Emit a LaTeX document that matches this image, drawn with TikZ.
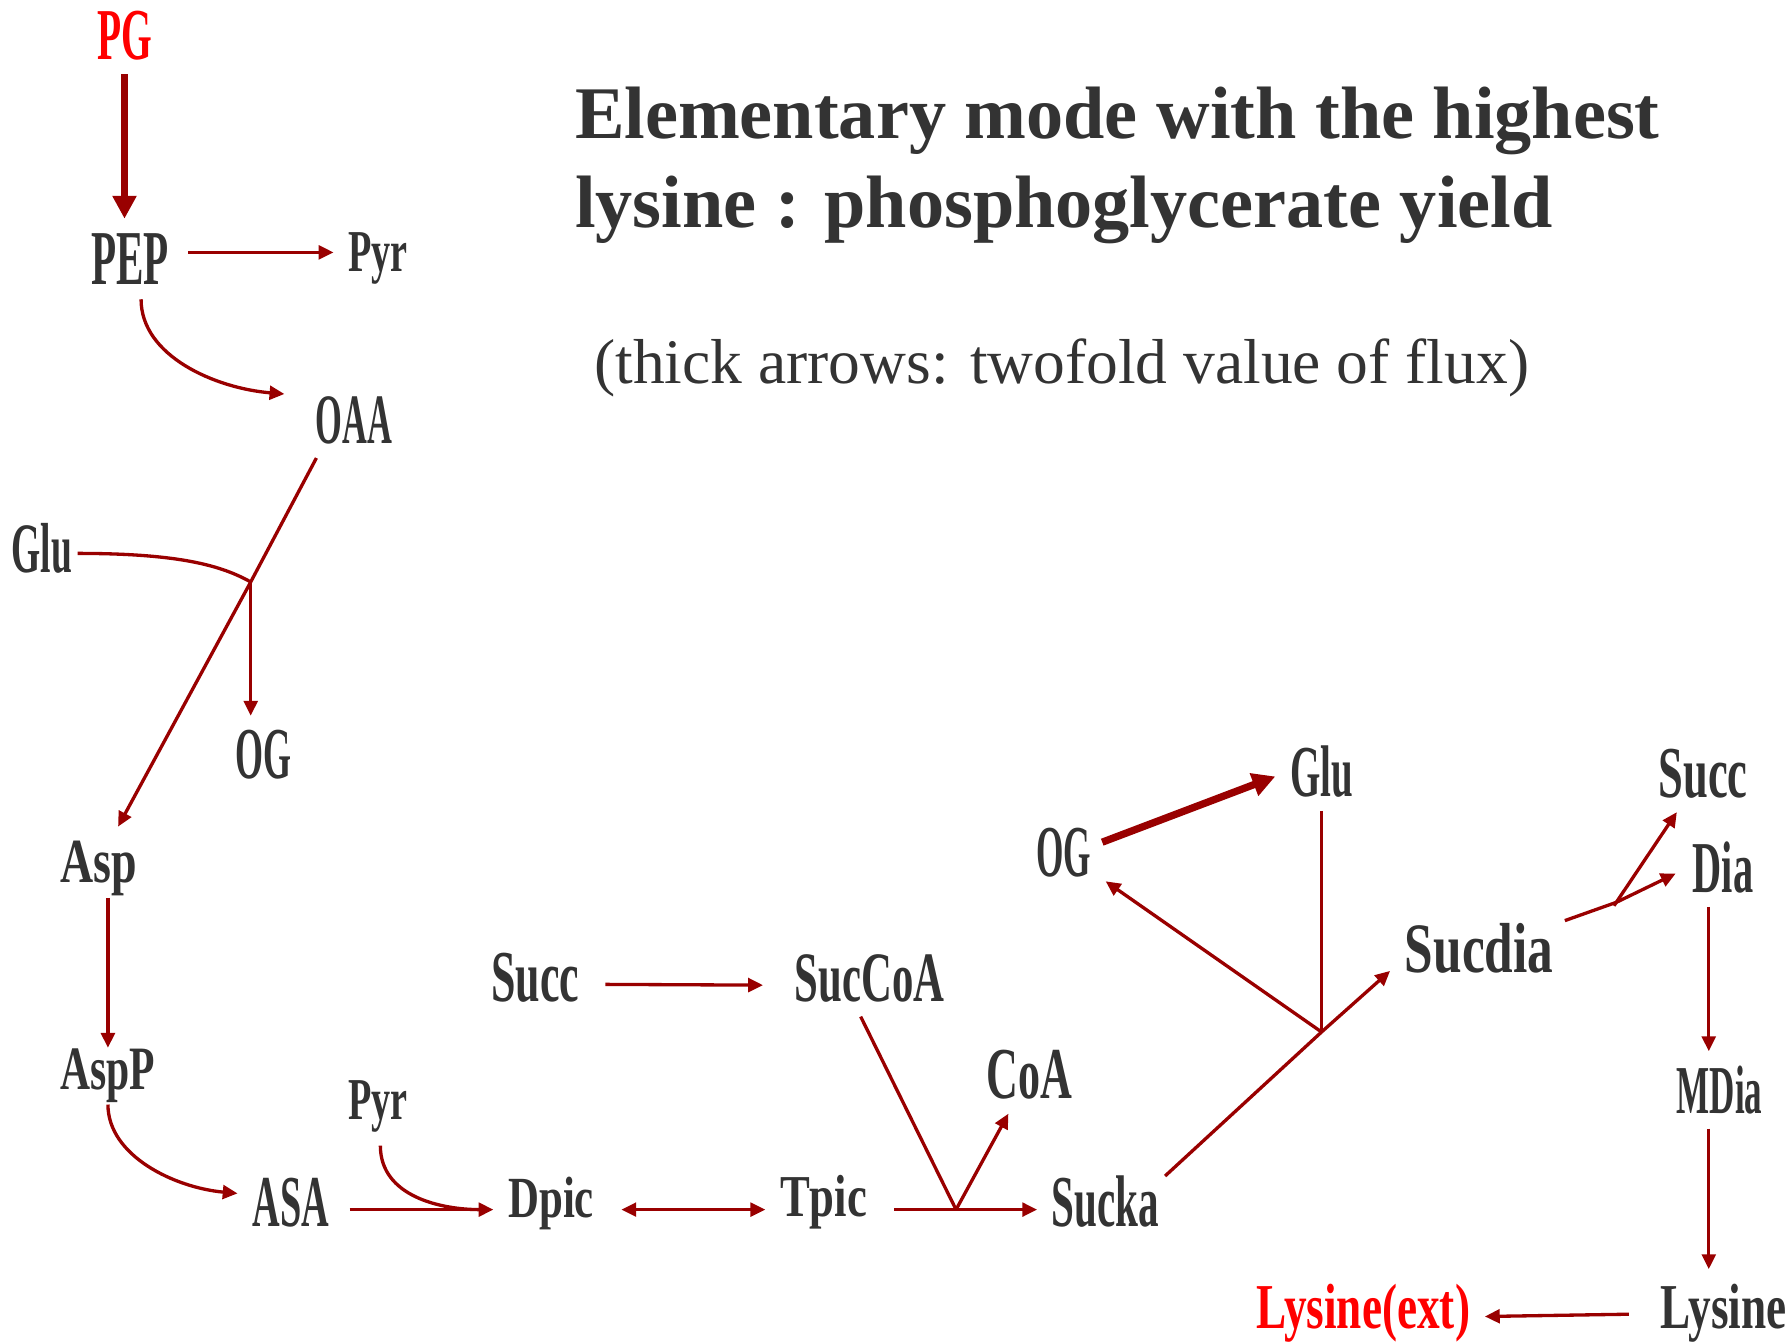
\documentclass[tikz,border=0pt]{standalone}
\usepackage{fontspec}
\setmainfont{Liberation Serif}
\usepackage{graphicx}
\usetikzlibrary{arrows.meta}
\definecolor{flux}{HTML}{990000}
\definecolor{ink}{HTML}{333333}
\definecolor{extred}{HTML}{FF0000}
\newcommand{\fitw}[2]{\resizebox{#1pt}{\height}{#2}}
\tikzset{
  Ftip/.tip={Triangle[length=6.5pt,width=6pt]},
  Fbig/.tip={Triangle[length=10pt,width=10pt]},
  met/.style={font=\bfseries\fontsize{#1pt}{#1pt}\selectfont, text=ink, inner sep=0pt, outer sep=6.5pt, text depth=0pt, anchor=base},
  heading/.style={font=\bfseries\fontsize{32.5pt}{37.5pt}\selectfont, text=ink, inner sep=0pt, anchor=base west},
  rxn/.style={draw=flux, line width=1.45pt, -Ftip},
  rxnthick/.style={draw=flux, line width=3.2pt, -Fbig},
  feed/.style={draw=flux, line width=1.45pt},
}
\begin{document}
\begin{tikzpicture}[x=0.5pt,y=-0.5pt]
\useasboundingbox (0,0) rectangle (1568,1176);

\node[heading] (title1) at (503,121) {Elementary mode with the highest};
\node[heading] (title2) at (503,199) {lysine : phosphoglycerate yield};
\node[font=\fontsize{27.8pt}{28pt}\selectfont, text=ink, inner sep=0pt, anchor=base west] (note) at (520,336) {(thick arrows: twofold value of flux)};

\node[met=32, text=extred] (PG) at (109,52) {\fitw{24}{PG}};
\node[met=34] (PEP) at (114,249) {\fitw{34}{PEP}};
\node[met=26] (Pyr1) at (331,238) {\fitw{26}{Pyr}};
\node[met=31] (OAA) at (310,388) {\fitw{33.5}{OAA}};
\node[met=31] (Glu1) at (36.5,501) {\fitw{26.5}{Glu}};
\node[met=32] (OG1) at (230.5,682) {\fitw{24.5}{OG}};
\node[met=27.5] (Asp) at (86.5,773) {\fitw{33.5}{Asp}};
\node[met=27] (AspP) at (94.5,954) {\fitw{41.5}{AspP}};
\node[met=26] (Pyr2) at (331,980) {\fitw{26}{Pyr}};
\node[met=32] (ASA) at (254.5,1074) {\fitw{33.5}{ASA}};
\node[met=25.5] (Dpic) at (482.5,1066) {\fitw{37.5}{Dpic}};
\node[met=26] (Tpic) at (721,1065) {\fitw{38}{Tpic}};
\node[met=32] (Succ1) at (468.5,877) {\fitw{38.5}{Succ}};
\node[met=31] (SucCoA) at (761.5,877) {\fitw{65.5}{SucCoA}};
\node[met=32] (CoA) at (901.5,962) {\fitw{37.5}{CoA}};
\node[met=32] (Sucka) at (968,1074) {\fitw{47}{Sucka}};
\node[met=32] (OG2) at (931,767) {\fitw{24}{OG}};
\node[met=32] (Glu2) at (1157,697) {\fitw{27.5}{Glu}};
\node[met=31] (Sucdia) at (1295,851) {\fitw{65}{Sucdia}};
\node[met=32] (Succ2) at (1491,698) {\fitw{39}{Succ}};
\node[met=32] (Dia) at (1508.5,781) {\fitw{26.5}{Dia}};
\node[met=30] (MDia) at (1505.5,975) {\fitw{37.5}{MDia}};
\node[met=28] (Lysine) at (1509,1163) {\fitw{55}{Lysine}};
\node[met=28, text=extred] (LysExt) at (1193.5,1163) {\fitw{93.5}{Lysine(ext)}};

\coordinate (j1) at (219.5,509.5);
\coordinate (j2) at (837,1059);
\coordinate (j3) at (1157,903.5);
\coordinate (j4) at (1415,790);
\coordinate (col) at (1496,0);

\draw[rxnthick] (PG.south) -- (PG.south |- PEP.north);
\draw[rxn, shorten <=2pt] (PEP.east |- Pyr1.west) -- (Pyr1.west);
\draw[rxn] ([shift={(9.5,0)}]PEP.south) .. controls +(0,50) and +(-60,-5) .. ([shift={(-14.5,11)}]OAA.north west);
\draw[rxn] ([shift={(13.5,0)}]OAA.south west) -- (j1) -- (Asp);
\draw[feed] ([shift={(-8,5)}]Glu1.east) .. controls +(90,0) and +(-25,-14) .. (j1);
\draw[rxn] (j1) -- (j1 |- OG1.north);
\draw[rxn] (Asp.south -| AspP.north) -- ([shift={(0,12)}]AspP.north);
\draw[rxn] (AspP.south) .. controls +(0,45) and +(-55,-5) .. ([shift={(0,-8)}]ASA.west);
\draw[rxn, shorten <=2.5pt] (ASA.east |- j2) -- (Dpic.west |- j2);
\draw[feed, shorten >=6pt] ([shift={(2,10)}]Pyr2.south) .. controls +(0,45) and +(-45,0) .. (Dpic.west |- j2);
\draw[rxn, Ftip-Ftip, shorten <=5.5pt] (Dpic.east |- j2) -- (Tpic.west |- j2);
\draw[rxn, shorten <=5.5pt] (Tpic.east |- j2) -- (Sucka.west |- j2);
\draw[feed] ([shift={(-8,0)}]SucCoA.south) -- (j2);
\draw[rxn] (j2) -- (CoA);
\draw[rxn] ([shift={(10,6)}]Succ1.east) -- ([shift={(-15,6)}]SucCoA.west);
\draw[feed] ([shift={(-8,13)}]Sucka.north east) -- (j3);
\draw[rxn] (j3) -- ([shift={(0,-14)}]Sucdia.south west);
\draw[rxn] (j3) -- (OG2);
\draw[feed] (Glu2.south) -- (Glu2.south |- j3);
\draw[rxnthick] ([shift={(-3,-8.5)}]OG2.east) -- ([shift={(0,5)}]Glu2.west);
\draw[feed] ([shift={(-3,11)}]Sucdia.north east) -- (j4);
\draw[rxn] (j4) -- ([shift={(-2,6)}]Dia.west);
\draw[rxn] ([shift={(-2,3)}]j4) -- (Succ2);
\draw[rxn] (Dia.south -| col) -- (MDia.north -| col);
\draw[rxn] (MDia.south -| col) -- (Lysine.north -| col);
\draw[rxn] ([shift={(-15,7)}]Lysine.west) -- ([shift={(0,9)}]LysExt.east);
\end{tikzpicture}
\end{document}
